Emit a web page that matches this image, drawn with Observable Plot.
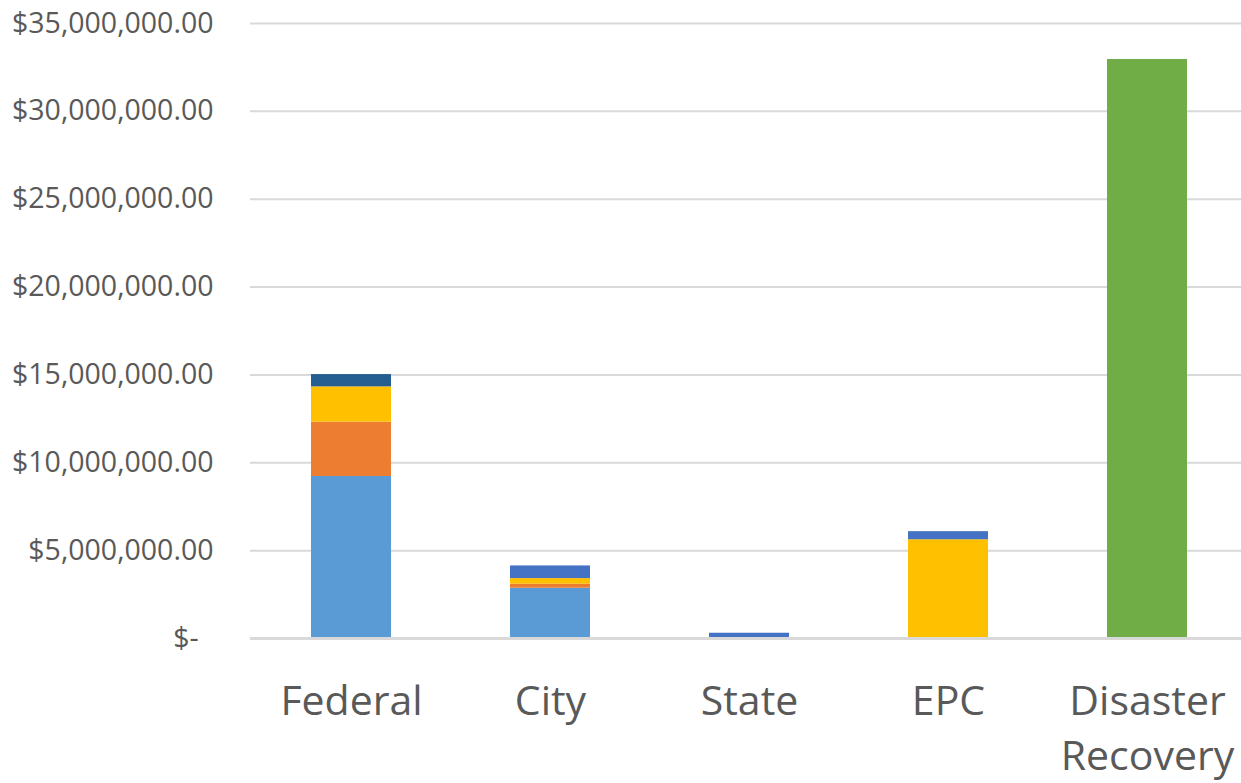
<!DOCTYPE html>
<html>
<head>
<meta charset="utf-8">
<script src="https://cdn.jsdelivr.net/npm/d3@7"></script>
<script src="https://cdn.jsdelivr.net/npm/@observablehq/plot@0.6"></script>
<style>
  html, body { margin: 0; padding: 0; background: #fff; }
  #chart svg { display: block; }
</style>
</head>
<body>
<div id="chart"></div>
<script>
// Categories (x axis)
const categories = ["Federal", "City", "State", "EPC", "Disaster Recovery"];

// Stacked series values (dollars), one value per category
const seriesNames = ["Series 1", "Series 2", "Series 3", "Series 4", "Series 5", "Series 6"];
const series1 = [9220000, 2860000, 0, 0, 0];          // light blue
const series2 = [3090000, 230000, 0, 0, 0];           // orange
const series3 = [2010000, 320000, 0, 5620000, 0];     // yellow
const series4 = [0, 720000, 300000, 460000, 0];       // blue
const series5 = [700000, 0, 0, 0, 0];                 // dark blue
const series6 = [0, 0, 0, 0, 32950000];               // green
const seriesColors = ["#5B9BD5", "#ED7D31", "#FFC000", "#4472C4", "#255E91", "#70AD47"];

// Y tick values
const yTicks = [0, 5000000, 10000000, 15000000, 20000000, 25000000, 30000000, 35000000];

const allSeries = [series1, series2, series3, series4, series5, series6];
const data = [];
allSeries.forEach((vals, si) => {
  vals.forEach((v, ci) => {
    data.push({category: categories[ci], series: seriesNames[si], value: v});
  });
});

const fmt = d => d === 0 ? "$-\u00a0\u00a0" : "$" + d3.format(",.2f")(d);
const xFmt = d => d === "Disaster Recovery" ? "Disaster\nRecovery" : d;

const chart = Plot.plot({
  width: 1241,
  height: 783,
  marginTop: 23,
  marginBottom: 145,
  marginLeft: 250,
  marginRight: 0,
  style: {fontFamily: "'Open Sans', sans-serif", color: "#595959", background: "#fff"},
  x: {domain: categories, range: [250, 1248], paddingInner: 0.6, paddingOuter: 0.3},
  y: {domain: [0, 35000000]},
  color: {domain: seriesNames, range: seriesColors},
  marks: [
    Plot.gridY(yTicks, {stroke: "#d9d9d9", strokeOpacity: 1, strokeWidth: 2}),
    Plot.barY(data, Plot.stackY({
      x: "category", y: "value", fill: "series", order: seriesNames
    })),
    Plot.ruleY([0], {stroke: "#d9d9d9", strokeWidth: 3}),
    Plot.axisY(yTicks, {
      tickSize: 0, tickPadding: 37, fontSize: 28.5, tickFormat: fmt,
      fill: "#595959", label: null
    }),
    Plot.axisX({
      tickSize: 0, tickPadding: 38, fontSize: 41, tickFormat: xFmt,
      lineHeight: 1.33, fill: "#595959", label: null
    })
  ]
});
document.getElementById("chart").appendChild(chart);
</script>
</body>
</html>
